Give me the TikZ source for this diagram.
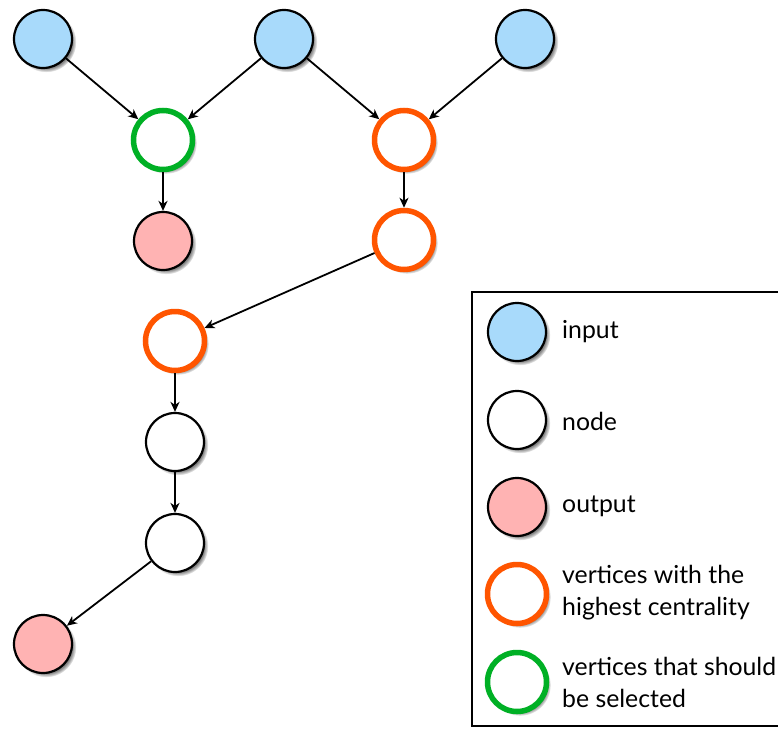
\documentclass[tikz,border=0pt]{standalone}
\usepackage{fontspec}
\setmainfont{Lato}
\usetikzlibrary{shadows,arrows.meta}
\definecolor{inblue}{HTML}{A8DAFB}
\definecolor{outpink}{HTML}{FFB3B3}
\definecolor{hiorange}{HTML}{FF5500}
\definecolor{selgreen}{HTML}{00B025}
\begin{document}
\begin{tikzpicture}[x=1pt,y=-1pt,
  vtx/.style={circle, draw=black, line width=2.2pt, minimum size=58pt, inner sep=0pt, fill=white,
    circular drop shadow={shadow xshift=3pt, shadow yshift=-3pt, shadow scale=1.04}},
  inp/.style={vtx, fill=inblue},
  outp/.style={vtx, fill=outpink},
  plain/.style={vtx},
  hi/.style={vtx, draw=hiorange, line width=5.5pt, minimum size=59pt},
  sel/.style={vtx, draw=selgreen, line width=5.5pt, minimum size=59pt},
  arr/.style={-{Stealth[length=10pt,width=9pt,inset=3pt]}, line width=1.8pt},
  lab/.style={anchor=base west, inner sep=0pt, align=left, font=\fontsize{24.8}{32}\selectfont}
]
\clip (0,0) rectangle (778,728);
\useasboundingbox (0,0) rectangle (778,728);
% graph
\node[inp] (i1) at (43,39) {};
\node[inp] (i2) at (284,39) {};
\node[inp] (i3) at (525,39) {};
\node[sel] (g) at (163,140) {};
\node[hi] (o1) at (404,140) {};
\node[outp] (p1) at (163,241) {};
\node[hi] (o2) at (404,240) {};
\node[hi] (o3) at (175,341) {};
\node[plain] (n1) at (175,442) {};
\node[plain] (n2) at (175,543) {};
\node[outp] (p2) at (43,644) {};
\draw[arr] (i1) -- (g);
\draw[arr] (i2) -- (g);
\draw[arr] (i2) -- (o1);
\draw[arr] (i3) -- (o1);
\draw[arr] (g) -- (p1);
\draw[arr] (o1) -- (o2);
\draw[arr] (o2) -- (o3);
\draw[arr] (o3) -- (n1);
\draw[arr] (n1) -- (n2);
\draw[arr] (n2) -- (p2);
% legend
\draw[line width=1.8pt, fill=white] (472,292) rectangle (800,726);
\node[inp] (li) at (517,332) {};
\node[plain] (ln) at (517,420) {};
\node[outp] (lo) at (517,507) {};
\node[hi] (lh) at (517,594) {};
\node[sel] (ls) at (517,682) {};
\node[lab] (ti) at (562,338) {input};
\node[lab] (tn) at (562,430) {node};
\node[lab] (to) at (562,512) {output};
\node[lab] (th) at (562,615) {vertices with the\\highest centrality};
\node[lab] (ts) at (562,707) {vertices that should\\be selected};
\end{tikzpicture}
\end{document}
